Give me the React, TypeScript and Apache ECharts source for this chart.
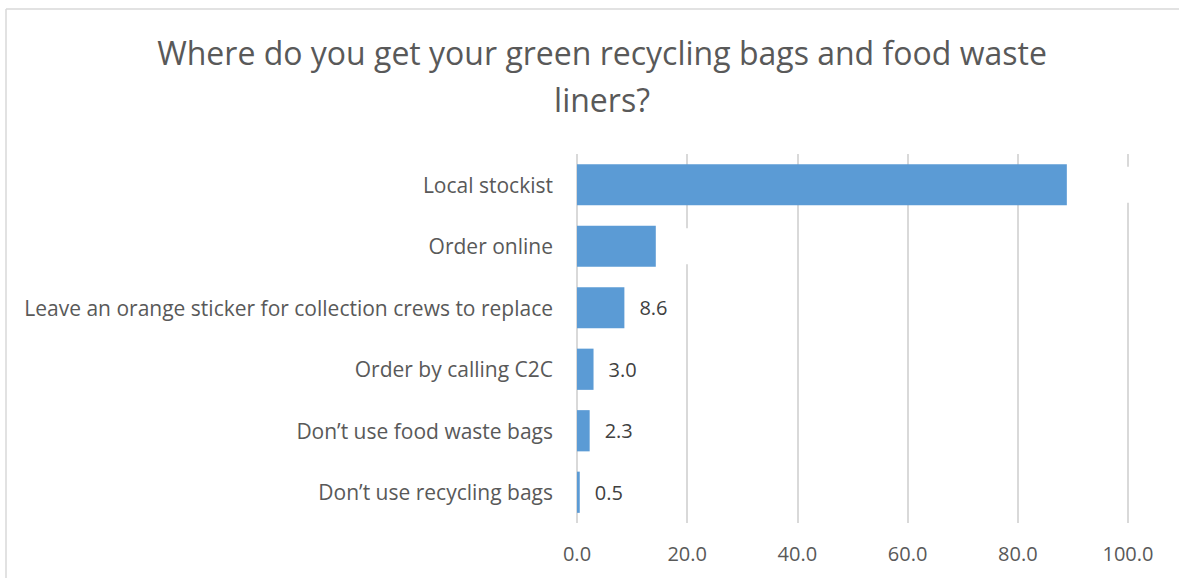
import React, { useEffect, useRef } from "react";
import * as echarts from "echarts";

const titleText = "Where do you get your green recycling bags and food waste\nliners?";
const categories = [
  "Local stockist",
  "Order online",
  "Leave an orange sticker for collection crews to replace",
  "Order by calling C2C",
  "Don\u2019t use food waste bags",
  "Don\u2019t use recycling bags",
];
const values = [88.9, 14.3, 8.6, 3.0, 2.3, 0.5];
const hiddenLabelIdx = [0, 1];

export default function App() {
  const ref = useRef<HTMLDivElement>(null);
  useEffect(() => {
    if (!ref.current) return;
    const chart = echarts.init(ref.current, null, { renderer: "svg" });
    const font = "'Open Sans', sans-serif";
    chart.setOption({
      animation: false,
      backgroundColor: "#ffffff",
      textStyle: { fontFamily: font },
      title: {
        text: titleText,
        left: 597,
        textAlign: "center",
        top: 24,
        textStyle: {
          fontFamily: font,
          fontSize: 32,
          fontWeight: "normal",
          color: "#595959",
          lineHeight: 47,
        },
      },
      graphic: [
        { type: "line", shape: { x1: 6, y1: 9, x2: 1179, y2: 9 }, style: { stroke: "#D9D9D9", lineWidth: 1.5 } },
        { type: "line", shape: { x1: 6, y1: 9, x2: 6, y2: 578 }, style: { stroke: "#D9D9D9", lineWidth: 1.5 } },
      ],
      grid: { left: 577, right: 51, top: 154, bottom: 55, containLabel: false },
      xAxis: {
        type: "value",
        min: 0,
        max: 100,
        interval: 20,
        axisLine: { show: false },
        axisTick: { show: false },
        splitLine: { show: true, lineStyle: { color: "#D9D9D9", width: 2 } },
        axisLabel: {
          color: "#595959",
          fontSize: 20,
          fontFamily: font,
          margin: 20,
          formatter: (v: number) => v.toFixed(1),
        },
      },
      yAxis: {
        type: "category",
        data: categories,
        inverse: true,
        axisLine: { show: false },
        axisTick: { show: false },
        axisLabel: { color: "#595959", fontSize: 21, fontFamily: font, margin: 24 },
      },
      series: [
        {
          type: "bar",
          barCategoryGap: "33%",
          itemStyle: { color: "#5B9BD5" },
          data: values.map((v, i) =>
            hiddenLabelIdx.includes(i)
              ? {
                  value: v,
                  label: {
                    color: "#ffffff",
                    backgroundColor: "#ffffff",
                    padding: [8, 14, 8, 0],
                  },
                }
              : v
          ),
          label: {
            show: true,
            position: "right",
            distance: 15,
            color: "#404040",
            fontSize: 20,
            fontFamily: font,
            formatter: (p: any) => Number(p.value).toFixed(1),
          },
        },
      ],
    });
    return () => chart.dispose();
  }, []);
  return (
    <div
      ref={ref}
      style={{ position: "absolute", left: 0, top: 0, width: 1179, height: 578 }}
    />
  );
}
